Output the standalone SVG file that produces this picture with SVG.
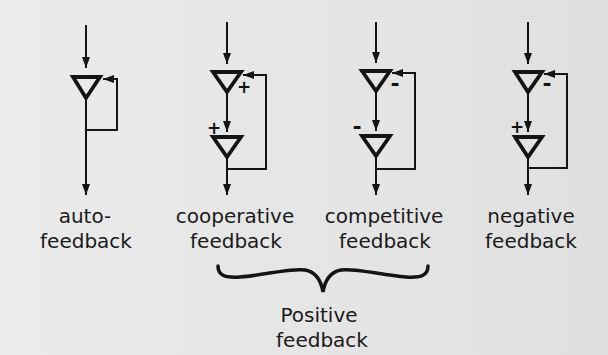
<svg xmlns="http://www.w3.org/2000/svg" width="608" height="355" viewBox="0 0 608 355">
<defs>
<marker id="ah" viewBox="0 0 11 8" refX="11" refY="4" markerWidth="11" markerHeight="8" markerUnits="userSpaceOnUse" orient="auto">
<path d="M0,0 L11,4 L0,8 Z" fill="#141414"/>
</marker>
<linearGradient id="bg" x1="0" y1="0" x2="1" y2="0">
<stop offset="0" stop-color="#ebebeb"/>
<stop offset="1" stop-color="#e0e0e0"/>
</linearGradient>
</defs>
<style>
.tri{fill:none;stroke:#141414;stroke-width:3.8;stroke-linejoin:miter}
.ln{fill:none;stroke:#141414;stroke-width:2}
.lbl{font-family:"DejaVu Sans","Noto Sans",sans-serif;font-size:20px;fill:#1a1a1a;text-anchor:middle}
.sg{font-family:"DejaVu Sans","Liberation Sans",sans-serif;font-size:17px;font-weight:bold;fill:#141414;text-anchor:middle}
.mn{font-family:"DejaVu Sans","Liberation Sans",sans-serif;font-size:22px;font-weight:bold;fill:#141414;text-anchor:middle}
.brace{fill:none;stroke:#141414;stroke-width:3.5;stroke-linecap:round}
</style>
<rect width="608" height="355" fill="url(#bg)"/>
<g id="connectors">
<line class="ln" x1="86" y1="25" x2="86" y2="68" marker-end="url(#ah)"/>
<line class="ln" x1="86" y1="98" x2="86" y2="195" marker-end="url(#ah)"/>
<polyline class="ln" points="86,130 117,130 117,79 103,79" marker-end="url(#ah)"/>
<line class="ln" x1="227" y1="22" x2="227" y2="64" marker-end="url(#ah)"/>
<line class="ln" x1="227" y1="92" x2="227" y2="132" marker-end="url(#ah)"/>
<line class="ln" x1="227" y1="157" x2="227" y2="195" marker-end="url(#ah)"/>
<polyline class="ln" points="227,169 266,169 266,75 243,75" marker-end="url(#ah)"/>
<line class="ln" x1="376" y1="22" x2="376" y2="63" marker-end="url(#ah)"/>
<line class="ln" x1="376" y1="91" x2="376" y2="131" marker-end="url(#ah)"/>
<line class="ln" x1="376" y1="156" x2="376" y2="195" marker-end="url(#ah)"/>
<polyline class="ln" points="376,169 415,169 415,73 392,73" marker-end="url(#ah)"/>
<line class="ln" x1="528" y1="22" x2="528" y2="64" marker-end="url(#ah)"/>
<line class="ln" x1="528" y1="92" x2="528" y2="132" marker-end="url(#ah)"/>
<line class="ln" x1="528" y1="157" x2="528" y2="195" marker-end="url(#ah)"/>
<polyline class="ln" points="528,168 567,168 567,74 544,74" marker-end="url(#ah)"/>
</g>
<g id="auto">
<polygon class="tri" points="73,77 100,77 86,98"/>
<text class="lbl" x="85" y="223">auto-</text>
<text class="lbl" x="86" y="248">feedback</text>
</g>
<g id="cooperative">
<polygon class="tri" points="213,72 241,72 227,92"/>
<polygon class="tri" points="213,137 241,137 227,157"/>
<text class="sg" x="244" y="93">+</text>
<text class="sg" x="214" y="134">+</text>
<text class="lbl" x="235" y="223">cooperative</text>
<text class="lbl" x="236" y="248">feedback</text>
</g>
<g id="competitive">
<polygon class="tri" points="362,71 390,71 376,91"/>
<polygon class="tri" points="362,136 390,136 376,156"/>
<text class="mn" x="395" y="91">-</text>
<text class="mn" x="357" y="134">-</text>
<text class="lbl" x="384" y="223">competitive</text>
<text class="lbl" x="385" y="248">feedback</text>
</g>
<g id="negative">
<polygon class="tri" points="515,72 542,72 528,92"/>
<polygon class="tri" points="515,137 542,137 528,157"/>
<text class="mn" x="547" y="91">-</text>
<text class="sg" x="517" y="133">+</text>
<text class="lbl" x="531" y="223">negative</text>
<text class="lbl" x="531" y="248">feedback</text>
</g>
<g id="positive">
<path class="brace" d="M218,266 C218,276 226,278 240,277 C265,275 290,268 305,270 C316,272 321,280 323,292 C325,280 330,272 341,270 C356,268 381,275 406,277 C420,278 428,276 428,266"/>
<text class="lbl" x="319" y="322">Positive</text>
<text class="lbl" x="322" y="347">feedback</text>
</g>
</svg>
